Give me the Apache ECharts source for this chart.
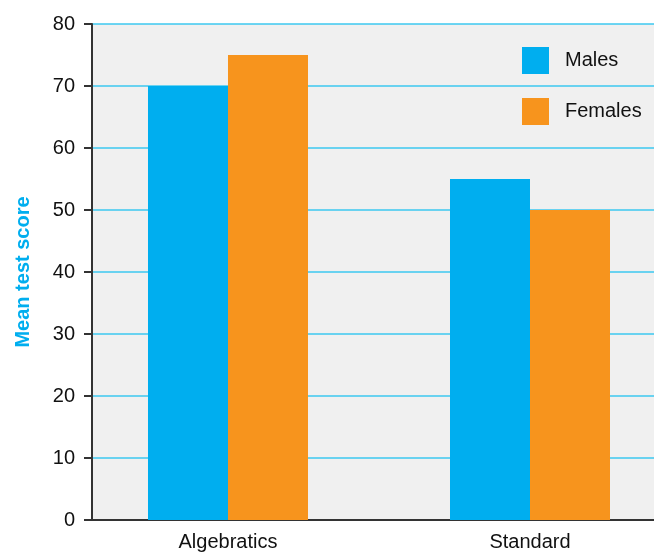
<!DOCTYPE html>
<html><head><meta charset="utf-8">
<script src="https://cdn.jsdelivr.net/npm/echarts@6/dist/echarts.min.js"></script>
<style>html,body{margin:0;padding:0;background:#fff}#c{width:654px;height:558px}</style>
</head><body><div id="c"></div>
<script>
const categories = ['Algebratics', 'Standard'];
const males = [70, 55];
const females = [75, 50];
const seriesNames = ['Males', 'Females'];
const yTicks = [0, 10, 20, 30, 40, 50, 60, 70, 80];

const FONT = '"Liberation Sans Narrow", "Liberation Sans", Arial, sans-serif';
const chart = echarts.init(document.getElementById('c'), null, {renderer: 'canvas'});
const pos = categories.map((c, i) => i);
chart.setOption({
  animation: false,
  grid: {left: 92, right: 0, top: 24, bottom: 38, show: true, backgroundColor: '#f0f0f0', borderWidth: 0},
  legend: {
    orient: 'vertical', left: 522, top: 47, itemWidth: 27, itemHeight: 27, itemGap: 24,
    icon: 'rect', padding: 0,
    textStyle: {fontFamily: FONT, fontSize: 20, color: '#111', padding: [0, 0, 0, 11]},
    data: seriesNames
  },
  xAxis: {
    type: 'value', min: -0.4503, max: 1.4106,
    splitLine: {show: false},
    axisLine: {show: true, onZero: false, lineStyle: {color: '#333', width: 2}},
    axisTick: {show: false},
    axisLabel: {
      customValues: pos, margin: 12,
      formatter: v => categories[Math.round(v)],
      fontFamily: FONT, fontSize: 20, color: '#111'
    }
  },
  yAxis: {
    type: 'value', min: 0, max: 80, interval: 10,
    name: 'Mean test score', nameLocation: 'middle', nameGap: 59,
    nameTextStyle: {fontFamily: FONT, fontSize: 20, fontWeight: 'bold', color: '#00aeef'},
    axisLine: {show: true, onZero: false, lineStyle: {color: '#333', width: 2}},
    axisTick: {show: true, length: 8, lineStyle: {color: '#333', width: 2}},
    axisLabel: {margin: 17, fontFamily: FONT, fontSize: 20, color: '#111',
      formatter: v => String(yTicks[Math.round(v / 10)])},
    splitLine: {show: true, lineStyle: {color: '#3cc8f0', width: 1.5}}
  },
  series: [
    {name: seriesNames[0], type: 'bar', barWidth: 80, barGap: '0%', itemStyle: {color: '#00aeef'},
     data: males.map((v, i) => [pos[i], v])},
    {name: seriesNames[1], type: 'bar', barWidth: 80, barGap: '0%', itemStyle: {color: '#f7941d'},
     data: females.map((v, i) => [pos[i], v])}
  ]
});
</script></body></html>
